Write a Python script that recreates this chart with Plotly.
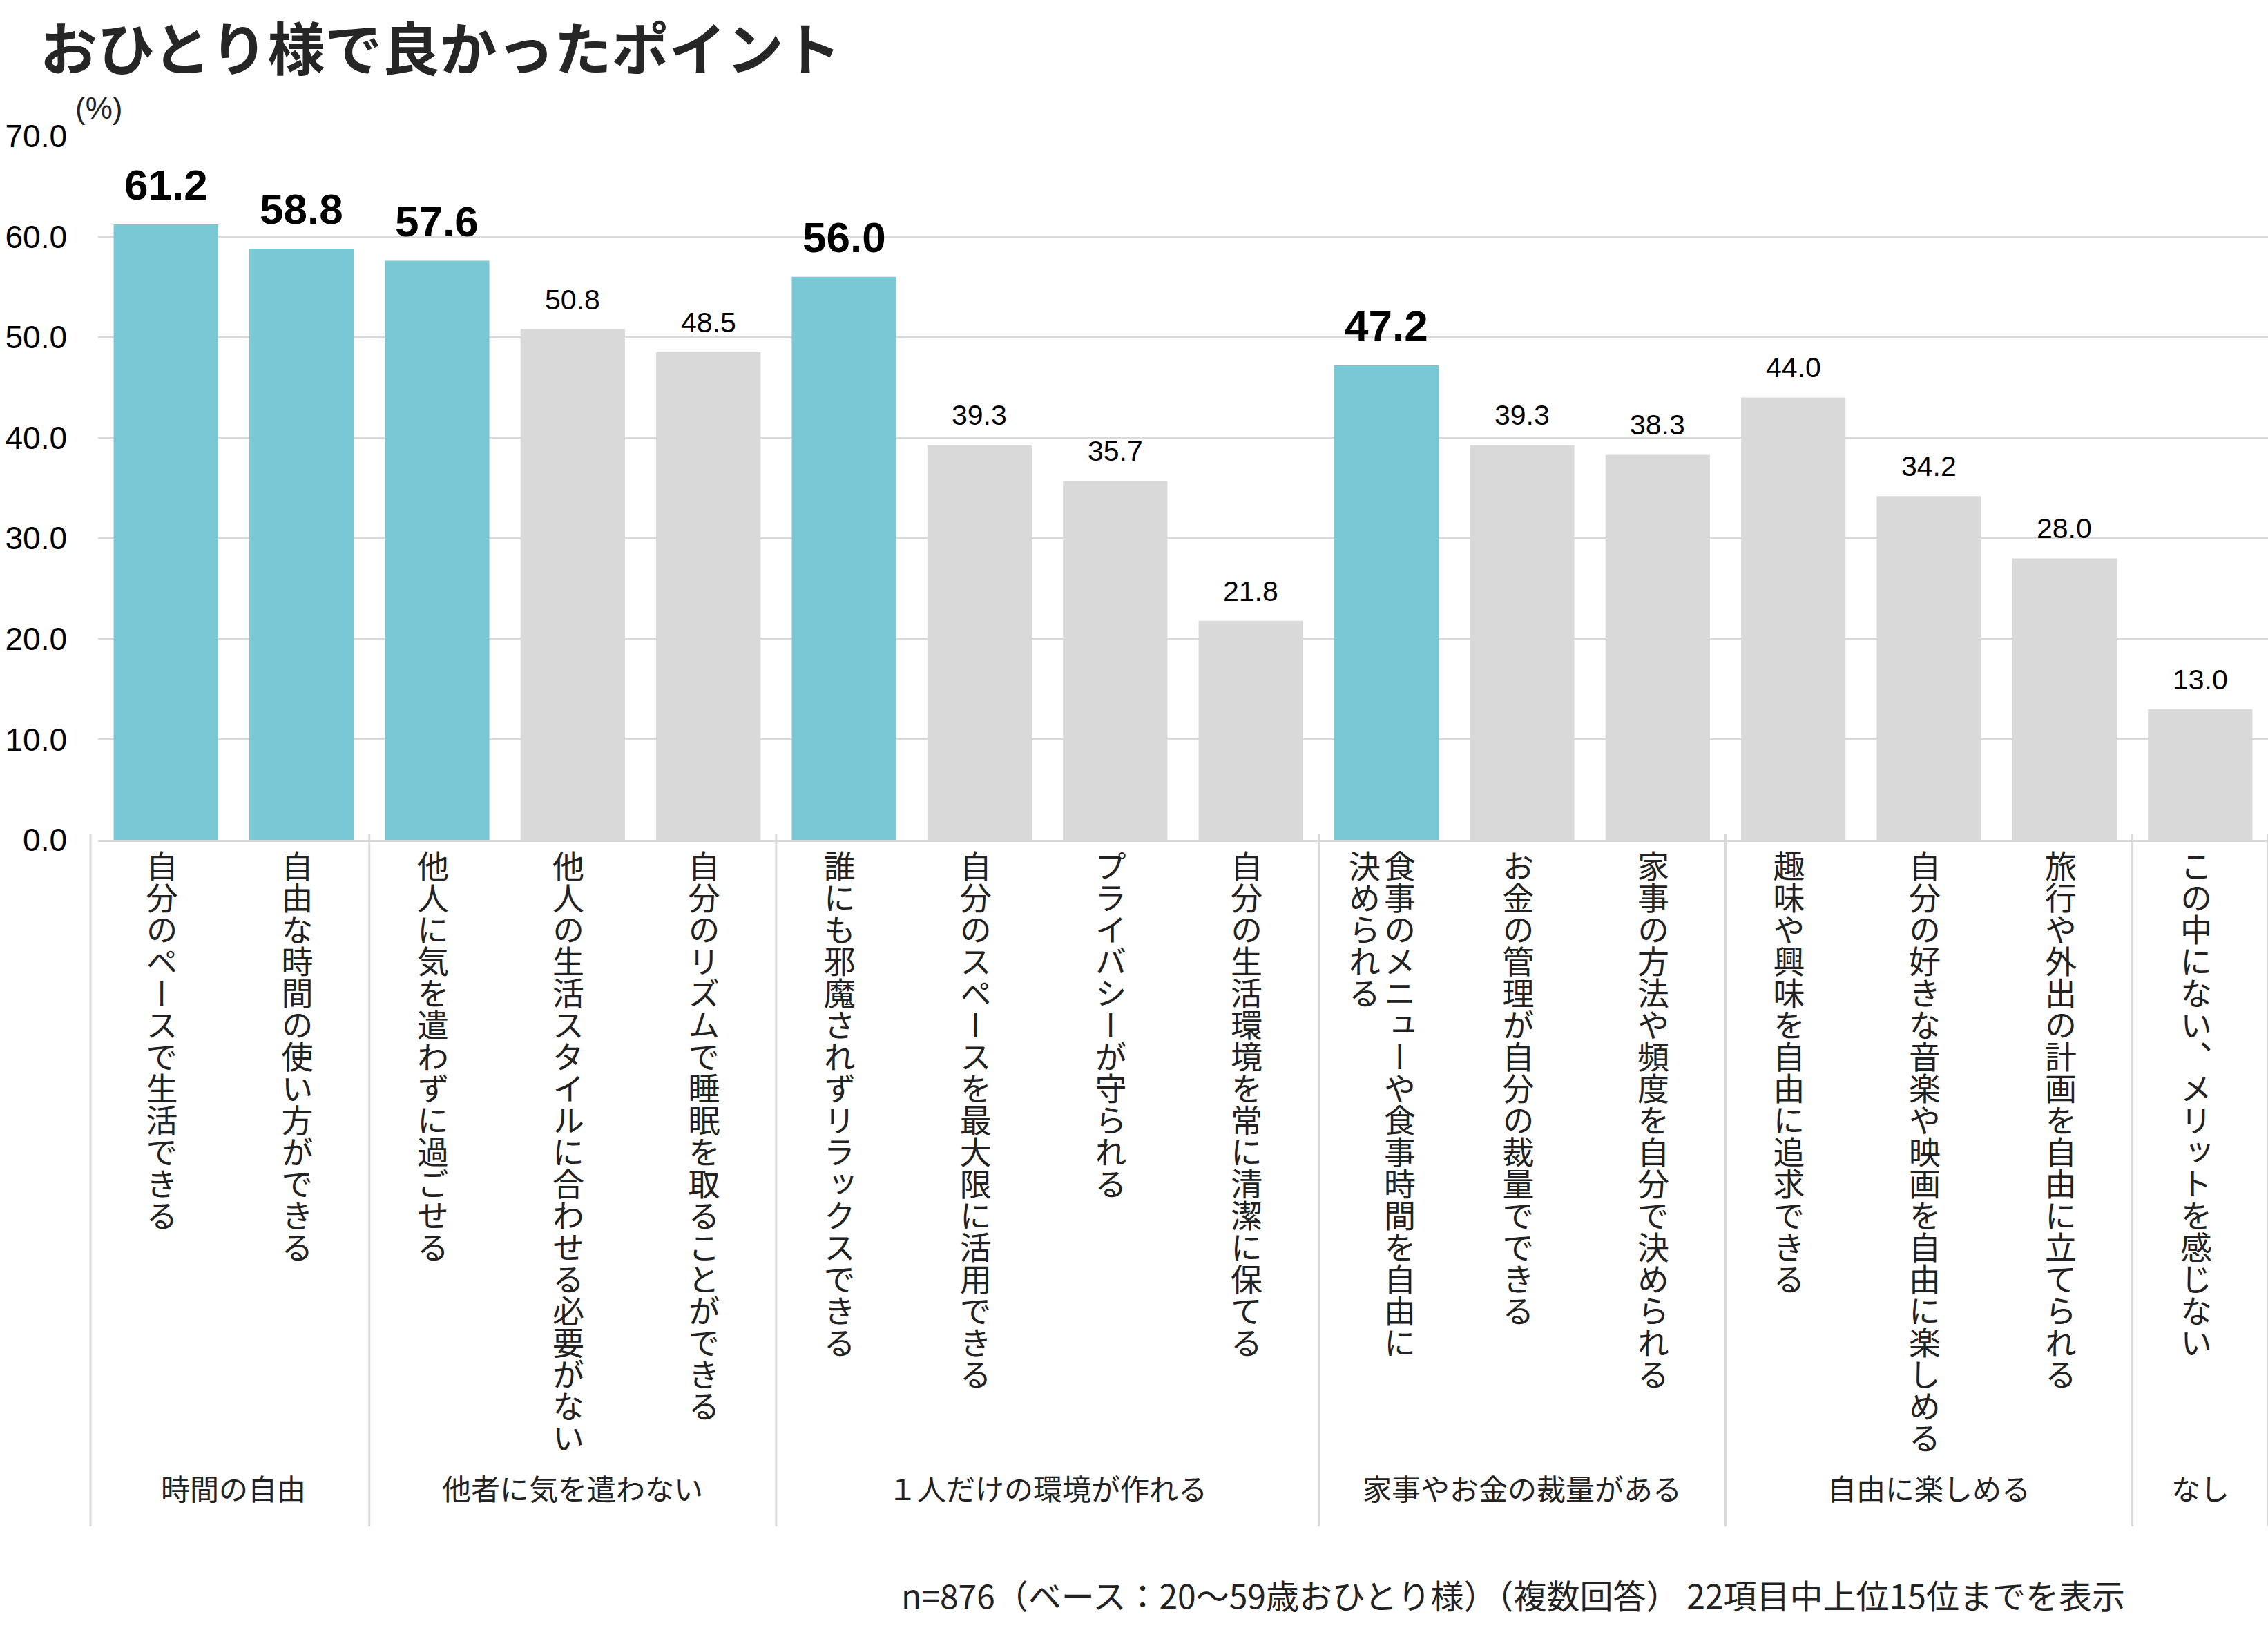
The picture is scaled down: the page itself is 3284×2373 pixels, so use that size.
import json
import plotly.graph_objects as go

# ---------------- data ----------------
categories = [
    "自分のペースで生活できる",
    "自由な時間の使い方ができる",
    "他人に気を遣わずに過ごせる",
    "他人の生活スタイルに合わせる必要がない",
    "自分のリズムで睡眠を取ることができる",
    "誰にも邪魔されずリラックスできる",
    "自分のスペースを最大限に活用できる",
    "プライバシーが守られる",
    "自分の生活環境を常に清潔に保てる",
    "食事のメニューや食事時間を自由に決められる",
    "お金の管理が自分の裁量でできる",
    "家事の方法や頻度を自分で決められる",
    "趣味や興味を自由に追求できる",
    "自分の好きな音楽や映画を自由に楽しめる",
    "旅行や外出の計画を自由に立てられる",
    "この中にない、メリットを感じない",
]
values = [61.2, 58.8, 57.6, 50.8, 48.5, 56.0, 39.3, 35.7, 21.8,
          47.2, 39.3, 38.3, 44.0, 34.2, 28.0, 13.0]
highlighted = [True, True, True, False, False, True, False, False, False,
               True, False, False, False, False, False, False]
group_names = ["時間の自由", "他者に気を遣わない", "１人だけの環境が作れる",
               "家事やお金の裁量がある", "自由に楽しめる", "なし"]
group_sizes = [2, 3, 4, 3, 3, 1]
wrap_at = {9: 16}   # label index -> characters in first vertical column
y_ticks = [0, 10, 20, 30, 40, 50, 60, 70]
title_text = "おひとり様で良かったポイント"
unit_text = "(%)"
footer_text = "n=876（ベース：20～59歳おひとり様）（複数回答） 22項目中上位15位までを表示"

# ---------------- style ----------------
W, H = 3284, 2373
TOP, BOTTOM_PIX, LEFT = 197, 1216, 142
PLOT_H = BOTTOM_PIX - TOP
TEAL = "#78C8D6"
GRAY = "#D9D9D9"
GRID = "#D9D9D9"
JP = "Noto Sans CJK JP"
NUM = "Liberation Sans, Arial"


def yp(pix):
    return (BOTTOM_PIX - pix) / PLOT_H


def xp(pix):
    return (pix - LEFT) / (W - LEFT)


fig = go.Figure()
fig.add_trace(go.Bar(
    x=categories, y=values,
    marker=dict(color=[TEAL if h else GRAY for h in highlighted], line=dict(width=0)),
    width=0.77, hoverinfo="skip", showlegend=False,
))

annotations = []

# title
annotations.append(dict(x=xp(56), y=yp(4), xref="paper", yref="paper", text=title_text,
                        showarrow=False, xanchor="left", yanchor="top",
                        font=dict(family=JP, size=83, color="#262626", weight="bold")))

# value labels
for i, (c, v, h) in enumerate(zip(categories, values, highlighted)):
    annotations.append(dict(
        x=i, y=v, xref="x", yref="y", text=f"{v:.1f}", showarrow=False,
        xanchor="center", yanchor="bottom", yshift=21 if h else 18,
        font=dict(family=NUM, size=62 if h else 41, color="#000000",
                  weight="bold" if h else "normal"),
    ))

# vertical category labels (rendered with vertical writing mode, see post_script)
LABEL_TOP = 1230
COL_OFF = 0.13
X_NUDGE = -0.03
vertical_idx = []


def add_column(text, xpos):
    vertical_idx.append(len(annotations))
    annotations.append(dict(
        x=xpos + X_NUDGE, y=yp(LABEL_TOP), xref="x", yref="paper", text=text,
        showarrow=False, xanchor="center", yanchor="top",
        font=dict(family=JP, size=46, color="#222222")))


for i, c in enumerate(categories):
    if i in wrap_at:
        n = wrap_at[i]
        add_column(c[:n], i + COL_OFF)
        add_column(c[n:], i - COL_OFF)
    else:
        add_column(c, i)

# group labels and dividers
shapes = []
start = 0
bounds = []
for name, size in zip(group_names, group_sizes):
    center = start + (size - 1) / 2
    annotations.append(dict(
        x=center, y=yp(2153), xref="x", yref="paper", text=name, showarrow=False,
        xanchor="center", yanchor="middle",
        font=dict(family=JP, size=42, color="#222222"),
    ))
    start += size
    bounds.append(start - 0.5)
shapes.append(dict(type="line", xref="paper", yref="paper", x0=xp(131), x1=xp(131),
                   y0=yp(1208), y1=yp(2210), line=dict(color=GRID, width=3)))
for b in bounds:
    shapes.append(dict(type="line", xref="x", yref="paper", x0=b, x1=b,
                       y0=yp(1208), y1=yp(2210), line=dict(color=GRID, width=3)))

# unit label
annotations.append(dict(x=xp(143), y=yp(157), xref="paper", yref="paper", text=unit_text,
                        showarrow=False, xanchor="center", yanchor="middle",
                        font=dict(family=NUM, size=44, color="#222222")))
# footer
annotations.append(dict(x=xp(3079), y=yp(2308), xref="paper", yref="paper", text=footer_text,
                        showarrow=False, xanchor="right", yanchor="middle",
                        font=dict(family=JP, size=48, color="#222222")))

fig.update_layout(
    width=W, height=H, autosize=False,
    margin=dict(l=LEFT, r=0, t=TOP, b=H - BOTTOM_PIX, pad=0),
    paper_bgcolor="white", plot_bgcolor="white",
    xaxis=dict(range=[-0.5, len(categories) - 0.5], showticklabels=False, ticks="",
               showgrid=False, showline=True, linecolor=GRID, linewidth=3,
               zeroline=False, fixedrange=True),
    yaxis=dict(range=[0, 70], tickvals=y_ticks, tickformat=".1f", ticks="",
               showgrid=True, gridcolor=GRID, gridwidth=2.5, zeroline=False,
               showline=False, ticklabelstandoff=44,
               tickfont=dict(family=NUM, size=46, color="#000000")),
    bargap=0.23,
    annotations=annotations,
    shapes=shapes,
)

post_script = """
(function(){
  document.body.style.margin = '0';
  document.body.style.padding = '0';
  var gd = document.getElementById('{plot_id}');
  var VERT = %s;
  function fix(){
    VERT.forEach(function(i){
      var g = gd.querySelector('g.annotation[data-index="' + i + '"]');
      if (!g) return;
      var t = g.querySelector('text.annotation-text');
      if (!t) return;
      t.style.writingMode = 'vertical-rl';
      t.style.textOrientation = 'mixed';
      t.setAttribute('text-anchor', 'start');
      t.setAttribute('y', 1);
      t.querySelectorAll('tspan').forEach(function(s){
        s.removeAttribute('y');
        s.removeAttribute('dy');
      });
    });
  }
  fix();
  if (gd.on) { gd.on('plotly_afterplot', fix); }
})();
""" % json.dumps(vertical_idx)

fig.write_html("out.html", post_script=post_script, config={"displayModeBar": False})
